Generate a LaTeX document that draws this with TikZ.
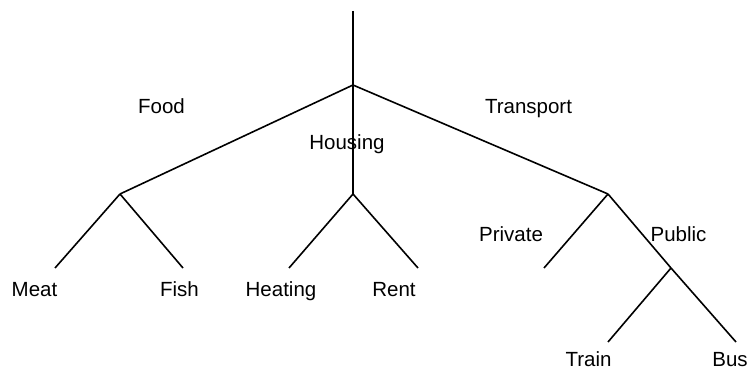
\documentclass[tikz,border=0pt]{standalone}
\usepackage{fontspec}
\setmainfont{Liberation Sans}
\begin{document}
\begin{tikzpicture}[x=1pt,y=-1pt,
  branch/.style={line width=1.6pt, line cap=butt},
  lbl/.style={anchor=base, inner sep=0pt, font=\fontsize{20.5}{24}\selectfont}]
\useasboundingbox (0,0) rectangle (749,371);
% branch points
\coordinate (top) at (353,11);
\coordinate (root) at (353,85);
\coordinate (food) at (120,194);
\coordinate (housing) at (353,194);
\coordinate (transport) at (608,194);
\coordinate (public) at (671,268);
% leaf ends
\coordinate (meat) at (55,268);
\coordinate (fish) at (183,268);
\coordinate (heating) at (289,268);
\coordinate (rent) at (418,268);
\coordinate (private) at (544,268);
\coordinate (train) at (608,342);
\coordinate (bus) at (736,342);
% edges
\draw[branch] (top) -- (root);
\draw[branch] (root) -- (food);
\draw[branch] (root) -- (housing);
\draw[branch] (root) -- (transport);
\draw[branch] (food) -- (meat);
\draw[branch] (food) -- (fish);
\draw[branch] (housing) -- (heating);
\draw[branch] (housing) -- (rent);
\draw[branch] (transport) -- (private);
\draw[branch] (transport) -- (public);
\draw[branch] (public) -- (train);
\draw[branch] (public) -- (bus);
% labels
\node[lbl] (tFood) at (161.5,114) {Food};
\node[lbl] (tHousing) at (347,150) {Housing};
\node[lbl] (tTransport) at (528.5,114) {Transport};
\node[lbl] (tPrivate) at (511,241.5) {Private};
\node[lbl] (tPublic) at (678.5,241.5) {Public};
\node[lbl] (tMeat) at (34.5,296.5) {Meat};
\node[lbl] (tFish) at (179.5,296.5) {Fish};
\node[lbl] (tHeating) at (281,296.5) {Heating};
\node[lbl] (tRent) at (394,296.5) {Rent};
\node[lbl] (tTrain) at (588.5,366) {Train};
\node[lbl] (tBus) at (730,366) {Bus};
\end{tikzpicture}
\end{document}
